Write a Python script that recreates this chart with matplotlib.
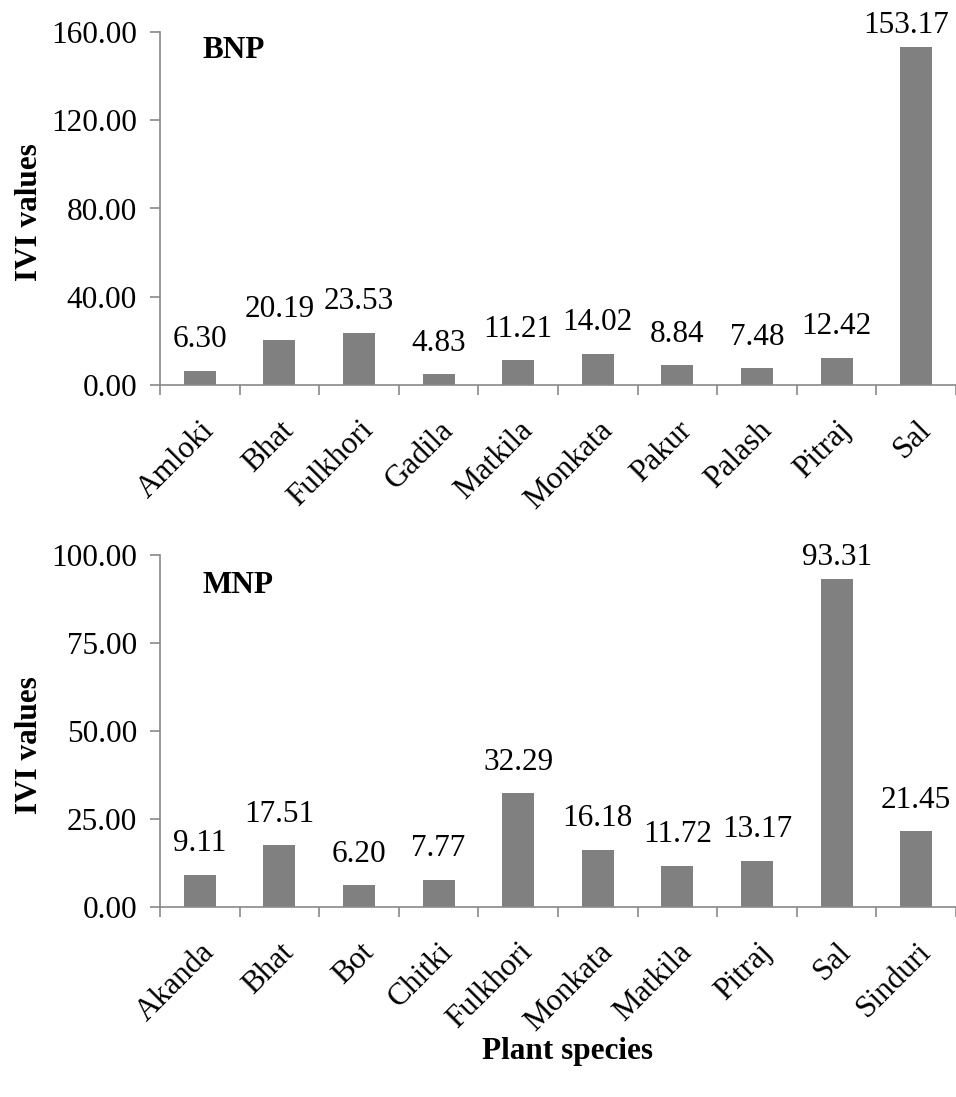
import numpy as np
import matplotlib
matplotlib.use("Agg")
import matplotlib.pyplot as plt
from matplotlib.ticker import FormatStrFormatter, FixedLocator

plt.rcParams['font.family'] = ['Liberation Serif', 'DejaVu Serif']

# BNP panel
bnp_species = ["Amloki", "Bhat", "Fulkhori", "Gadila", "Matkila",
               "Monkata", "Pakur", "Palash", "Pitraj", "Sal"]
bnp_ivi = [6.30, 20.19, 23.53, 4.83, 11.21, 14.02, 8.84, 7.48, 12.42, 153.17]

# MNP panel
mnp_species = ["Akanda", "Bhat", "Bot", "Chitki", "Fulkhori",
               "Monkata", "Matkila", "Pitraj", "Sal", "Sinduri"]
mnp_ivi = [9.11, 17.51, 6.20, 7.77, 32.29, 16.18, 11.72, 13.17, 93.31, 21.45]

W, H = 956, 1097
fig = plt.figure(figsize=(W / 100, H / 100), dpi=100)

axis_col = '#898989'
bar_col = '#808080'
fs = 22.5


def panel(rect, species, vals, ymax, ystep, tag, tag_y, lab_y):
    ax = fig.add_axes(rect)
    x = np.arange(len(species))
    ax.bar(x, vals, width=0.4, color=bar_col, zorder=2)
    ax.set_xlim(-0.5, len(species) - 0.5)
    ax.set_ylim(0, ymax)
    ax.set_yticks(np.arange(0, ymax + ystep / 2, ystep))
    ax.yaxis.set_major_formatter(FormatStrFormatter('%.2f'))

    for s in ['top', 'right']:
        ax.spines[s].set_visible(False)
    for s in ['left', 'bottom']:
        ax.spines[s].set_color(axis_col)
        ax.spines[s].set_linewidth(1.2)

    ax.tick_params(axis='y', direction='out', length=7.5, width=1.2,
                   color=axis_col, labelsize=fs, pad=9)
    ax.set_xticks(x)
    ax.set_xticklabels(species, rotation=45, ha='right',
                       rotation_mode='anchor', fontsize=fs)
    ax.tick_params(axis='x', which='major', length=0, pad=22)
    ax.xaxis.set_minor_locator(FixedLocator(np.arange(-0.5, len(species), 1.0)))
    ax.tick_params(axis='x', which='minor', direction='out', length=7.5,
                   width=1.2, color=axis_col)

    top = max(vals)
    last = len(vals) - 1
    for xi, v in zip(x, vals):
        off = 5 if v == top else 12
        dx = -7 if xi == last and v == top else 0
        ax.annotate(f"{v:.2f}", (xi, v), xytext=(dx, off),
                    textcoords='offset points', ha='center', va='bottom',
                    fontsize=fs, annotation_clip=False)

    ax.text(0.053, tag_y, tag, transform=ax.transAxes, fontsize=fs,
            fontweight='bold', va='center', ha='left')
    ax.set_ylabel("IVI values", fontsize=fs, fontweight='bold')
    ax.yaxis.set_label_coords(-0.146, lab_y)
    return ax


left = 160 / W
width = 796 / W
panel([left, 1 - 385 / H, width, 353 / H], bnp_species, bnp_ivi,
      160, 40, "BNP", 0.949, 0.49)
panel([left, 1 - 907 / H, width, 352 / H], mnp_species, mnp_ivi,
      100, 25, "MNP", 0.912, 0.46)

fig.text(568 / W, 1 - 1052 / H, "Plant species", fontsize=fs,
         fontweight='bold', ha='center', va='center')

fig.savefig("out.png", dpi=100, facecolor='white')
